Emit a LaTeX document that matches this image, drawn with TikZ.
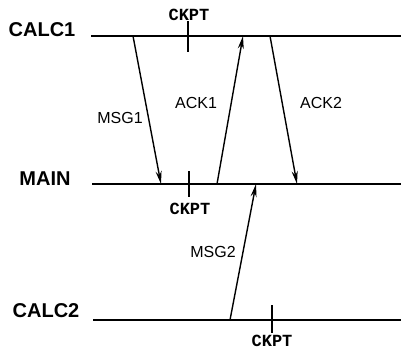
\documentclass[tikz,border=0pt]{standalone}
\usepackage{fontspec}
\setmainfont{Liberation Sans}
\newfontfamily\ckptfont{Liberation Mono}
\usetikzlibrary{arrows.meta}

\begin{document}
\begin{tikzpicture}[x=1pt,y=-1pt,
  proc/.style={font=\fontsize{20}{20}\selectfont\bfseries},
  msglab/.style={font=\fontsize{16}{16}\selectfont},
  ckptlab/.style={font=\fontsize{17}{17}\selectfont\ckptfont\bfseries},
  timeline/.style={line width=1.7pt},
  ticker/.style={line width=1.7pt},
  msg/.style={line width=1.4pt,-{Stealth[length=13pt,width=6pt]}}]

  \useasboundingbox (0,0) rectangle (401,349);

  %% ---- Process lines ----
  \node[proc] (calc1) at (42,30) {CALC1};
  \node[proc] (main)  at (45,179) {MAIN};
  \node[proc] (calc2) at (46,311) {CALC2};

  \coordinate (c1l) at (91,36);  \coordinate (c1r) at (401,36);
  \coordinate (mnl) at (92,184); \coordinate (mnr) at (401,184);
  \coordinate (c2l) at (93,320); \coordinate (c2r) at (401,320);

  \draw[timeline] (c1l) -- (c1r);
  \draw[timeline] (mnl) -- (mnr);
  \draw[timeline] (c2l) -- (c2r);

  %% ---- Checkpoints ----
  \node[ckptlab] (ck1) at (189,15) {CKPT};
  \node[ckptlab] (ck2) at (190,209) {CKPT};
  \node[ckptlab] (ck3) at (272,341) {CKPT};

  \coordinate (t1a) at (188,21);  \coordinate (t1b) at (188,52);
  \coordinate (t2a) at (189,171); \coordinate (t2b) at (189,197);
  \coordinate (t3a) at (272,305); \coordinate (t3b) at (272,333);

  \draw[ticker] (t1a) -- (t1b);
  \draw[ticker] (t2a) -- (t2b);
  \draw[ticker] (t3a) -- (t3b);

  %% ---- Messages ----
  \coordinate (m1s) at (133,36);  \coordinate (m1e) at (161,184);
  \coordinate (a1s) at (217,184); \coordinate (a1e) at (243,36);
  \coordinate (a2s) at (270,36);  \coordinate (a2e) at (297,184);
  \coordinate (m2s) at (230,320); \coordinate (m2e) at (256,184);

  \draw[msg] (m1s) -- (m1e);
  \draw[msg] (a1s) -- (a1e);
  \draw[msg] (a2s) -- (a2e);
  \draw[msg] (m2s) -- (m2e);

  % labels
  \node[msglab] (msg1) at (120,118) {MSG1};
  \node[msglab] (ack1) at (196,103) {ACK1};
  \node[msglab] (ack2) at (321,103) {ACK2};
  \node[msglab] (msg2) at (213,252) {MSG2};

\end{tikzpicture}
\end{document}
